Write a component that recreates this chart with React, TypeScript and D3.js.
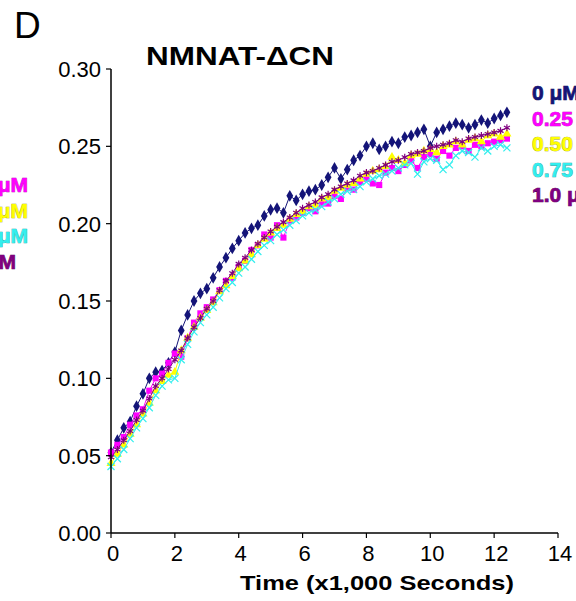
import React from 'react';
import * as d3 from 'd3';

// Tempo (x1,000 segundos)
const time = [
  0, 0.2, 0.4, 0.6, 0.8, 1.0, 1.2, 1.4, 1.6, 1.8, 2.0, 2.2, 2.4, 2.6, 2.8, 3.0,
  3.2, 3.4, 3.6, 3.8, 4.0, 4.2, 4.4, 4.6, 4.8, 5.0, 5.2, 5.4, 5.6, 5.8, 6.0, 6.2,
  6.4, 6.6, 6.8, 7.0, 7.2, 7.4, 7.6, 7.8, 8.0, 8.2, 8.4, 8.6, 8.8, 9.0, 9.2, 9.4,
  9.6, 9.8, 10.0, 10.2, 10.4, 10.6, 10.8, 11.0, 11.2, 11.4, 11.6, 11.8, 12.0, 12.2, 12.4,
];

const conc0 = [
  0.052, 0.060, 0.068, 0.072, 0.082, 0.090, 0.100, 0.104, 0.105, 0.110, 0.117, 0.131, 0.141, 0.150, 0.155, 0.158,
  0.165, 0.172, 0.178, 0.184, 0.189, 0.194, 0.197, 0.199, 0.205, 0.209, 0.210, 0.207, 0.218, 0.215, 0.219, 0.221,
  0.222, 0.225, 0.230, 0.236, 0.229, 0.235, 0.241, 0.244, 0.250, 0.252, 0.248, 0.250, 0.253, 0.252, 0.256, 0.257,
  0.259, 0.261, 0.250, 0.259, 0.261, 0.263, 0.265, 0.264, 0.262, 0.264, 0.267, 0.265, 0.268, 0.270, 0.272,
];
const conc025 = [
  0.052, 0.057, 0.062, 0.070, 0.076, 0.080, 0.092, 0.100, 0.103, 0.110, 0.116, 0.114, 0.126, 0.136, 0.142, 0.146,
  0.151, 0.157, 0.163, 0.165, 0.172, 0.176, 0.183, 0.186, 0.193, 0.191, 0.199, 0.191, 0.202, 0.204, 0.207, 0.210,
  0.208, 0.213, 0.213, 0.218, 0.216, 0.223, 0.222, 0.227, 0.229, 0.226, 0.225, 0.233, 0.236, 0.234, 0.238, 0.241,
  0.236, 0.243, 0.245, 0.242, 0.247, 0.244, 0.249, 0.250, 0.247, 0.251, 0.250, 0.252, 0.253, 0.254, 0.255,
];
const conc050 = [
  0.045, 0.051, 0.057, 0.064, 0.070, 0.077, 0.084, 0.092, 0.098, 0.102, 0.104, 0.118, 0.126, 0.133, 0.139, 0.144,
  0.149, 0.156, 0.160, 0.166, 0.171, 0.176, 0.180, 0.186, 0.190, 0.194, 0.197, 0.199, 0.203, 0.206, 0.208, 0.211,
  0.212, 0.216, 0.217, 0.221, 0.223, 0.225, 0.226, 0.229, 0.232, 0.234, 0.235, 0.237, 0.243, 0.241, 0.239, 0.244,
  0.245, 0.247, 0.248, 0.246, 0.250, 0.251, 0.253, 0.251, 0.254, 0.255, 0.253, 0.257, 0.258, 0.256, 0.258,
];
const conc075 = [
  0.043, 0.048, 0.054, 0.061, 0.068, 0.074, 0.081, 0.089, 0.095, 0.099, 0.100, 0.112, 0.122, 0.130, 0.136, 0.141,
  0.146, 0.152, 0.158, 0.162, 0.168, 0.172, 0.177, 0.182, 0.186, 0.189, 0.193, 0.196, 0.199, 0.202, 0.205, 0.207,
  0.209, 0.211, 0.214, 0.216, 0.219, 0.221, 0.222, 0.224, 0.227, 0.229, 0.231, 0.232, 0.234, 0.236, 0.238, 0.239,
  0.232, 0.240, 0.242, 0.241, 0.235, 0.238, 0.244, 0.247, 0.246, 0.243, 0.249, 0.247, 0.250, 0.251, 0.249,
];
const conc10 = [
  0.049, 0.054, 0.060, 0.066, 0.073, 0.079, 0.087, 0.095, 0.100, 0.106, 0.112, 0.118, 0.126, 0.133, 0.139, 0.145,
  0.150, 0.157, 0.163, 0.168, 0.174, 0.178, 0.183, 0.187, 0.191, 0.195, 0.198, 0.201, 0.204, 0.207, 0.210, 0.212,
  0.214, 0.217, 0.219, 0.222, 0.224, 0.226, 0.228, 0.231, 0.233, 0.234, 0.236, 0.238, 0.240, 0.241, 0.243, 0.245,
  0.246, 0.247, 0.249, 0.250, 0.251, 0.252, 0.254, 0.253, 0.255, 0.256, 0.257, 0.258, 0.259, 0.260, 0.262,
];

const legendLabels = ['0 μM', '0.25 μM', '0.50 μM', '0.75 μM', '1.0 μM'];
const xTicks = [0, 2, 4, 6, 8, 10, 12, 14];
const yTicks = [0, 0.05, 0.1, 0.15, 0.2, 0.25, 0.3];

const series = [
  { values: conc0, color: '#141478', outline: '#0a0a50', symbol: d3.symbolDiamond, size: 40, filled: true },
  { values: conc025, color: '#ff00ff', outline: '#b000b0', symbol: d3.symbolSquare, size: 38, filled: true },
  { values: conc050, color: '#ffff00', outline: '#a0a000', symbol: d3.symbolTriangle, size: 36, filled: true },
  { values: conc075, color: '#33eeee', outline: '#20a0a0', symbol: d3.symbolTimes, size: 34, filled: false },
  { values: conc10, color: '#800080', outline: '#500050', symbol: d3.symbolAsterisk, size: 34, filled: false },
];

const font = 'Arial, "Liberation Sans", sans-serif';

export default function App() {
  const x = d3.scaleLinear().domain([0, 14]).range([111, 558]);
  const y = d3.scaleLinear().domain([0, 0.3]).range([533, 69]);

  const line = d3.line<[number, number]>()
    .x(d => x(d[0]))
    .y(d => y(d[1]));

  return (
    <svg width={576} height={601} style={{ position: 'absolute', left: 0, top: 0, background: '#fff' }}>
      {/* painel */}
      <text x={14} y={38} fontFamily={font} fontSize={37} fill="#000">D</text>
      <text x={146} y={65} fontFamily={font} fontSize={25} fontWeight="bold" textLength={188} lengthAdjust="spacingAndGlyphs">NMNAT-ΔCN</text>

      {/* legenda parcial do painel vizinho */}
      {legendLabels.slice(1).map((l, i) => (
        <text key={'l' + i} x={i === 3 ? 16 : 28} y={192 + i * 25.5} textAnchor="end"
          fontFamily={font} fontSize={21} fontWeight="bold"
          fill={series[i + 1].color} stroke={series[i + 1].outline} strokeWidth={0.7}
          style={{ paintOrder: 'stroke' }}>{l}</text>
      ))}

      {/* séries */}
      {series.map((s, si) => {
        const pts = time.map((t, i) => [t, s.values[i]] as [number, number]);
        const sym = d3.symbol().type(s.symbol).size(s.size)();
        return (
          <g key={si}>
            <path d={line(pts) || ''} fill="none" stroke={s.color} strokeWidth={1} />
            {pts.map((p, i) => (
              <path key={i} d={sym || ''} transform={`translate(${x(p[0])},${y(p[1])})`}
                fill={s.filled ? s.color : 'none'} stroke={s.color} strokeWidth={s.filled ? 0 : 1.2} />
            ))}
          </g>
        );
      })}

      {/* eixo y */}
      <line x1={111} x2={111} y1={y(0.3)} y2={y(0)} stroke="#000" strokeWidth={1.5} />
      {yTicks.map(t => (
        <g key={'y' + t}>
          <line x1={106} x2={111} y1={y(t)} y2={y(t)} stroke="#000" strokeWidth={1.2} />
          <text x={101} y={y(t) + 8} textAnchor="end" fontFamily={font} fontSize={22}>{d3.format('.2f')(t)}</text>
        </g>
      ))}

      {/* eixo x */}
      <line x1={x(0)} x2={x(14)} y1={533} y2={533} stroke="#000" strokeWidth={1.5} />
      {xTicks.map(t => (
        <g key={'x' + t}>
          <line x1={x(t)} x2={x(t)} y1={533} y2={538} stroke="#000" strokeWidth={1.2} />
          <text x={x(t) + 2} y={561} textAnchor="middle" fontFamily={font} fontSize={22}>{t}</text>
        </g>
      ))}
      <text x={240} y={590} fontFamily={font} fontSize={21} fontWeight="bold" textLength={274} lengthAdjust="spacingAndGlyphs">Time (x1,000 Seconds)</text>

      {/* legenda */}
      {legendLabels.map((l, i) => (
        <text key={'r' + i} x={532} y={100 + i * 25.5}
          fontFamily={font} fontSize={21} fontWeight="bold"
          fill={series[i].color} stroke={series[i].outline} strokeWidth={0.7}
          style={{ paintOrder: 'stroke' }}>{l}</text>
      ))}
    </svg>
  );
}
